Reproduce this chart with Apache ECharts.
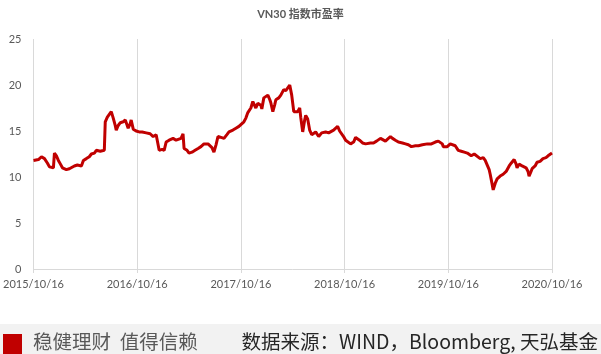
<!DOCTYPE html>
<html>
<head>
<meta charset="utf-8">
<script src="https://cdn.jsdelivr.net/npm/echarts@6/dist/echarts.min.js"></script>
<style>
  html, body { margin: 0; padding: 0; background: #fff; }
  #main { width: 601px; height: 354px; }
</style>
</head>
<body>
<div id="main"></div>
<script>
"use strict";
// x = years since 2015/10/16
var xYears = [
  0, 0.019, 0.048, 0.077, 0.106, 0.135, 0.154, 0.173, 0.192, 0.202,
  0.221, 0.240, 0.260, 0.279, 0.288, 0.317, 0.346, 0.365, 0.394, 0.423,
  0.442, 0.462, 0.481, 0.510, 0.538, 0.558, 0.587, 0.606, 0.625, 0.644,
  0.663, 0.683, 0.692, 0.712, 0.731, 0.750, 0.769, 0.788, 0.798, 0.817,
  0.837, 0.865, 0.885, 0.904, 0.913, 0.933, 0.942, 0.962, 0.990, 1.019,
  1.048, 1.087, 1.106, 1.125, 1.154, 1.183, 1.202, 1.212, 1.240, 1.260,
  1.279, 1.308, 1.346, 1.375, 1.394, 1.423, 1.442, 1.452, 1.481, 1.500,
  1.529, 1.558, 1.587, 1.615, 1.644, 1.663, 1.683, 1.702, 1.721, 1.740,
  1.760, 1.779, 1.808, 1.837, 1.865, 1.885, 1.923, 1.952, 1.981, 2.000,
  2.029, 2.048, 2.067, 2.096, 2.115, 2.125, 2.144, 2.163, 2.173, 2.192,
  2.202, 2.221, 2.240, 2.260, 2.279, 2.288, 2.308, 2.327, 2.337, 2.365,
  2.385, 2.413, 2.433, 2.452, 2.471, 2.490, 2.510, 2.529, 2.548, 2.567,
  2.577, 2.596, 2.615, 2.625, 2.644, 2.663, 2.683, 2.692, 2.721, 2.750,
  2.779, 2.817, 2.846, 2.865, 2.894, 2.913, 2.933, 2.952, 2.962, 2.990,
  3.010, 3.029, 3.058, 3.087, 3.106, 3.125, 3.144, 3.173, 3.202, 3.221,
  3.250, 3.279, 3.308, 3.327, 3.346, 3.365, 3.394, 3.413, 3.442, 3.462,
  3.490, 3.519, 3.558, 3.587, 3.615, 3.644, 3.683, 3.712, 3.750, 3.798,
  3.837, 3.875, 3.904, 3.923, 3.942, 3.952, 3.990, 4.019, 4.038, 4.067,
  4.096, 4.125, 4.154, 4.183, 4.202, 4.221, 4.250, 4.269, 4.308, 4.337,
  4.356, 4.375, 4.394, 4.404, 4.423, 4.433, 4.452, 4.471, 4.500, 4.529,
  4.558, 4.587, 4.606, 4.635, 4.654, 4.663, 4.683, 4.712, 4.731, 4.750,
  4.769, 4.779, 4.798, 4.808, 4.837, 4.856, 4.885, 4.913, 4.942, 4.962,
  4.981, 5.000
];
var peValues = [
  11.8, 12.0, 11.9, 12.2, 12.0, 11.5, 11.1, 11.2, 11.0, 12.6,
  12.3, 11.8, 11.4, 11.0, 10.8, 10.8, 10.9, 11.1, 11.2, 11.3,
  11.1, 11.2, 11.8, 12.0, 12.2, 12.5, 12.6, 12.9, 13.1, 12.8,
  12.7, 12.9, 16.0, 16.5, 16.8, 17.1, 16.4, 15.6, 15.1, 15.6,
  15.9, 16.0, 16.2, 15.6, 15.3, 15.8, 16.2, 15.2, 15.0, 14.9,
  14.9, 14.8, 14.9, 14.7, 14.4, 14.6, 14.5, 12.9, 13.0, 12.9,
  13.8, 14.0, 14.2, 14.0, 14.0, 14.2, 14.7, 13.1, 12.9, 12.6,
  12.7, 12.9, 13.1, 13.3, 13.6, 13.8, 13.6, 13.7, 13.2, 12.7,
  13.5, 14.4, 14.3, 14.2, 14.6, 14.9, 15.1, 15.3, 15.5, 15.7,
  16.0, 16.4, 17.0, 17.5, 18.2, 18.4, 17.5, 18.0, 18.2, 17.8,
  17.4, 18.6, 18.8, 18.9, 18.4, 18.1, 17.1, 17.9, 18.4, 18.6,
  18.9, 19.5, 19.4, 19.7, 20.0, 18.9, 17.1, 17.3, 17.1, 17.5,
  16.5, 14.9, 16.2, 16.7, 16.3, 15.1, 14.6, 14.4, 14.9, 14.4,
  14.8, 14.9, 14.8, 15.0, 15.1, 15.3, 15.5, 15.0, 14.8, 14.4,
  14.0, 13.8, 13.6, 13.8, 14.3, 14.4, 14.0, 13.7, 13.6, 13.5,
  13.7, 13.7, 13.9, 14.0, 14.2, 14.1, 13.9, 13.8, 14.4, 14.2,
  14.0, 13.8, 13.7, 13.6, 13.5, 13.3, 13.4, 13.4, 13.5, 13.6,
  13.6, 13.8, 13.9, 14.1, 13.6, 13.3, 13.3, 13.6, 13.8, 13.4,
  12.9, 12.8, 12.7, 12.6, 12.4, 12.3, 12.5, 12.4, 12.0, 12.1,
  11.8, 11.6, 10.8, 10.3, 9.2, 8.6, 9.3, 9.8, 10.1, 10.3,
  10.6, 11.2, 11.5, 11.9, 11.4, 11.0, 11.4, 11.2, 11.0, 11.0,
  10.6, 10.1, 10.6, 10.9, 11.2, 11.6, 11.7, 12.0, 12.1, 12.3,
  12.4, 12.6
];
var tickLabels = ['2015/10/16', '2016/10/16', '2017/10/16', '2018/10/16', '2019/10/16', '2020/10/16'];

var font = "Lato, 'Noto Sans CJK SC', sans-serif";
var cjk = "'Noto Sans CJK SC', sans-serif";
var myChart = echarts.init(document.getElementById('main'));

var lineData = [];
xYears.forEach(function(x, i) {
    lineData.push([x, peValues[i]]);
});

var option = {
    animation: false,
    title: {
        text: 'VN30 指数市盈率',
        left: 'center',
        top: 4,
        textStyle: { fontSize: 11, fontWeight: 'bold', color: '#595959', fontFamily: font }
    },
    grid: { left: 32, right: 49, top: 39, bottom: 85 },
    xAxis: {
        type: 'value',
        min: 0,
        max: 5,
        interval: 1,
        axisLine: { lineStyle: { color: '#d9d9d9' } },
        axisTick: { show: true, length: 4, lineStyle: { color: '#d9d9d9' } },
        splitLine: { show: true, lineStyle: { color: '#d9d9d9' } },
        axisLabel: {
            color: '#595959',
            fontSize: 11,
            fontFamily: font,
            margin: 10,
            formatter: function(v) { return tickLabels[Math.round(v)]; }
        }
    },
    yAxis: {
        type: 'value',
        min: 0,
        max: 25,
        interval: 5,
        axisLine: { show: false },
        axisTick: { show: false },
        splitLine: { show: false },
        axisLabel: { color: '#595959', fontSize: 11, fontFamily: font, margin: 12 }
    },
    series: [{
        name: 'VN30 PE',
        type: 'line',
        showSymbol: false,
        data: lineData,
        lineStyle: { color: '#c00000', width: 3 },
        itemStyle: { color: '#c00000' }
    }],
    graphic: [
        { type: 'rect', left: 0, top: 324, shape: { width: 601, height: 30 }, style: { fill: '#f2f2f2' } },
        { type: 'rect', left: 3, top: 334, shape: { width: 19, height: 20 }, style: { fill: '#c00000' } },
        { type: 'text', left: 33, top: 332, style: { text: '稳健理财  值得信赖', fill: '#595959', font: '19.5px ' + cjk } },
        { type: 'text', right: 3, top: 332, style: { text: '数据来源：WIND，Bloomberg, 天弘基金', fill: '#262626', font: '19.5px ' + cjk } }
    ]
};

myChart.setOption(option);
</script>
</body>
</html>
